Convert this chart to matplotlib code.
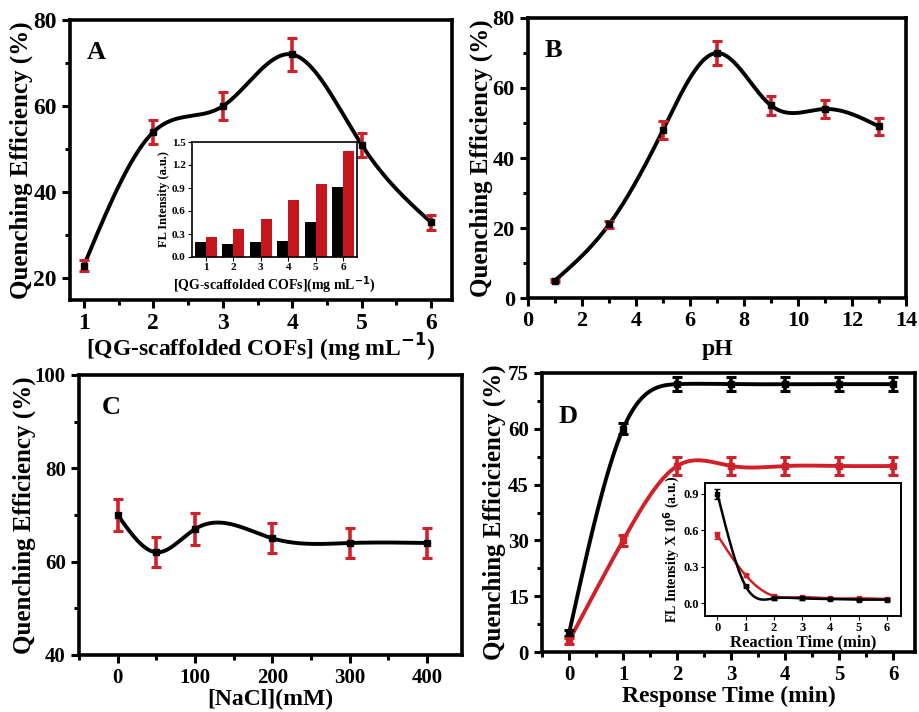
import numpy as np
import matplotlib
matplotlib.use("Agg")
import matplotlib.pyplot as plt
from matplotlib.ticker import AutoMinorLocator

plt.rcParams['font.family'] = ['Liberation Serif', 'DejaVu Serif']
plt.rcParams['font.weight'] = 'bold'
plt.rcParams['axes.labelweight'] = 'bold'
plt.rcParams['mathtext.default'] = 'bf'

# ---------------- data ----------------
a_x = [1, 2, 3, 4, 5, 6]
a_y = [23, 54, 60, 72, 51, 33]
a_err = [1.2, 2.8, 3.2, 3.8, 2.8, 1.8]

a_in_cat = [1, 2, 3, 4, 5, 6]
a_in_black = [0.19, 0.17, 0.19, 0.21, 0.46, 0.91]
a_in_red = [0.26, 0.37, 0.50, 0.75, 0.95, 1.38]

b_x = [1, 3, 5, 7, 9, 11, 13]
b_y = [5, 21, 48, 70, 55, 54, 49]
b_err = [0.5, 1.0, 2.5, 3.5, 2.7, 2.7, 2.5]

c_x = [0, 50, 100, 200, 300, 400]
c_y = [70, 62, 67, 65, 64, 64]
c_err = [3.5, 3.2, 3.5, 3.2, 3.2, 3.2]

d_x = [0, 1, 2, 3, 4, 5, 6]
d_black = [5, 60, 72, 72, 72, 72, 72]
d_black_err = [0.8, 1.5, 1.8, 1.8, 1.8, 1.8, 1.8]
d_red = [3, 30, 50, 50, 50, 50, 50]
d_red_err = [0.8, 1.5, 2.3, 2.3, 2.3, 2.3, 2.3]

d_in_x = [0, 1, 2, 3, 4, 5, 6]
d_in_black = [0.90, 0.14, 0.04, 0.04, 0.035, 0.03, 0.03]
d_in_black_err = [0.04, 0.01, 0.01, 0.01, 0.01, 0.01, 0.01]
d_in_red = [0.56, 0.23, 0.06, 0.05, 0.04, 0.04, 0.035]
d_in_red_err = [0.03, 0.01, 0.01, 0.01, 0.01, 0.01, 0.01]

RED = '#d0212a'
BARRED = '#c4161c'


def natural_spline(x, y, n=400):
    x = np.asarray(x, float); y = np.asarray(y, float)
    m = len(x); h = np.diff(x)
    A = np.zeros((m, m)); r = np.zeros(m)
    A[0, 0] = A[-1, -1] = 1
    for i in range(1, m - 1):
        A[i, i - 1] = h[i - 1]; A[i, i] = 2 * (h[i - 1] + h[i]); A[i, i + 1] = h[i]
        r[i] = 3 * ((y[i + 1] - y[i]) / h[i] - (y[i] - y[i - 1]) / h[i - 1])
    c = np.linalg.solve(A, r)
    b = (y[1:] - y[:-1]) / h - h * (2 * c[:-1] + c[1:]) / 3
    d = (c[1:] - c[:-1]) / (3 * h)
    xs = np.linspace(x[0], x[-1], n)
    idx = np.clip(np.searchsorted(x, xs) - 1, 0, m - 2)
    t = xs - x[idx]
    ys = y[idx] + b[idx] * t + c[idx] * t ** 2 + d[idx] * t ** 3
    return xs, ys


W, H = 920, 712
fig = plt.figure(figsize=(W / 100, H / 100), dpi=100)


def ax_px(l, t, r, b):
    return fig.add_axes([l / W, (H - b) / H, (r - l) / W, (b - t) / H])


def style_main(ax, fs=15):
    for s in ax.spines.values():
        s.set_linewidth(2.6)
    ax.tick_params(which='both', direction='out', top=False, right=False, width=2.2)
    ax.tick_params(which='major', length=6, labelsize=fs)
    ax.tick_params(which='minor', length=3.5)
    ax.xaxis.set_minor_locator(AutoMinorLocator(2))
    ax.yaxis.set_minor_locator(AutoMinorLocator(2))
    for lab in ax.get_xticklabels() + ax.get_yticklabels():
        lab.set_fontweight('bold')


def plot_series(ax, x, y, err, lc='black', ec=RED, mc='black', lw=2.8):
    xs, ys = natural_spline(x, y)
    ax.plot(xs, ys, color=lc, lw=lw, zorder=2)
    ax.errorbar(x, y, yerr=err, fmt='none', ecolor=ec, elinewidth=2.6,
                capsize=3.5, capthick=2.2, zorder=3)
    ax.plot(x, y, 's', color=mc, ms=5, zorder=4)


YL = 'Quenching Efficiency (%)'

# ---------------- A ----------------
axA = ax_px(70, 20, 452, 300)
plot_series(axA, a_x, a_y, a_err)
axA.set_xlim(0.8, 6.3)
axA.set_ylim(15, 80)
axA.set_xticks([1, 2, 3, 4, 5, 6])
axA.set_yticks([20, 40, 60, 80])
style_main(axA, 17)
axA.set_ylabel(YL, fontsize=18, fontweight='bold')
axA.yaxis.set_label_coords(-0.097, 0.5)
axA.set_xlabel('[QG-scaffolded COFs] (mg mL$^{\\mathbf{-1}}$)', fontsize=17, fontweight='bold')
axA.xaxis.set_label_coords(0.5, -0.115)
axA.text(0.045, 0.86, 'A', transform=axA.transAxes, fontsize=19, fontweight='bold')

# inset A
axAi = ax_px(192, 142, 357, 257)
pos = np.arange(len(a_in_cat))
axAi.bar(pos - 0.2, a_in_black, width=0.4, color='black')
axAi.bar(pos + 0.2, a_in_red, width=0.4, color=BARRED)
axAi.set_xlim(-0.5, 5.5)
axAi.set_ylim(0, 1.5)
axAi.set_xticks(pos)
axAi.set_xticklabels([str(c) for c in a_in_cat])
axAi.set_yticks([0.0, 0.3, 0.6, 0.9, 1.2, 1.5])
axAi.set_yticklabels(['0.0', '0.3', '0.6', '0.9', '1.2', '1.5'])
for s in axAi.spines.values():
    s.set_linewidth(1.2)
axAi.tick_params(which='both', direction='out', top=False, right=False, labelsize=8, length=3, pad=1.5)
axAi.set_ylabel('FL Intensity (a.u.)', fontsize=9, fontweight='bold', labelpad=1)
axAi.set_xlabel('[QG-scaffolded COFs](mg mL$^{\\mathbf{-1}}$)', fontsize=10, fontweight='bold', labelpad=1)

# ---------------- B ----------------
axB = ax_px(528, 18, 906, 298)
plot_series(axB, b_x, b_y, b_err)
axB.set_xlim(0, 14)
axB.set_ylim(0, 80)
axB.set_xticks(range(0, 15, 2))
axB.set_yticks([0, 20, 40, 60, 80])
style_main(axB, 16)
axB.set_ylabel(YL, fontsize=18, fontweight='bold')
axB.yaxis.set_label_coords(-0.092, 0.5)
axB.set_xlabel('pH', fontsize=17, fontweight='bold')
axB.xaxis.set_label_coords(0.5, -0.145)
axB.text(0.045, 0.86, 'B', transform=axB.transAxes, fontsize=19, fontweight='bold')

# ---------------- C ----------------
axC = ax_px(79, 375, 462, 655)
plot_series(axC, c_x, c_y, c_err)
axC.set_xlim(-50, 445)
axC.set_ylim(40, 100)
axC.set_xticks([0, 100, 200, 300, 400])
axC.set_yticks([40, 60, 80, 100])
style_main(axC, 15)
axC.set_ylabel(YL, fontsize=18, fontweight='bold')
axC.yaxis.set_label_coords(-0.112, 0.5)
axC.set_xlabel('[NaCl](mM)', fontsize=17, fontweight='bold')
axC.xaxis.set_label_coords(0.5, -0.12)
axC.text(0.06, 0.86, 'C', transform=axC.transAxes, fontsize=19, fontweight='bold')

# ---------------- D ----------------
axD = ax_px(542, 373, 915, 652)
xs, ys = natural_spline(d_x, d_black)
axD.plot(xs, ys, color='black', lw=2.8, zorder=2)
axD.errorbar(d_x, d_black, yerr=d_black_err, fmt='none', ecolor='black', elinewidth=2.6,
             capsize=3.5, capthick=2.2, zorder=3)
axD.plot(d_x, d_black, 's', color='black', ms=5, zorder=4)
xs, ys = natural_spline(d_x, d_red)
axD.plot(xs, ys, color=RED, lw=2.8, zorder=2)
axD.errorbar(d_x, d_red, yerr=d_red_err, fmt='none', ecolor=RED, elinewidth=2.6,
             capsize=3.5, capthick=2.2, zorder=3)
axD.plot(d_x, d_red, 's', color=RED, ms=5, zorder=4)
axD.set_xlim(-0.5, 6.4)
axD.set_ylim(0, 75)
axD.set_xticks(range(0, 7))
axD.set_yticks([0, 15, 30, 45, 60, 75])
style_main(axD, 15)
axD.set_ylabel('Quenching Efficiciency (%)', fontsize=18, fontweight='bold')
axD.yaxis.set_label_coords(-0.097, 0.5)
axD.set_xlabel('Response Time (min)', fontsize=17, fontweight='bold')
axD.xaxis.set_label_coords(0.5, -0.12)
axD.text(0.045, 0.82, 'D', transform=axD.transAxes, fontsize=19, fontweight='bold')

# inset D
axDi = ax_px(705, 483, 901, 616)
xs, ys = natural_spline(d_in_x, d_in_black)
axDi.plot(xs, ys, color='black', lw=1.8, zorder=3)
axDi.errorbar(d_in_x, d_in_black, yerr=d_in_black_err, fmt='none', ecolor='black',
              elinewidth=1.5, capsize=2, zorder=3)
xs, ys = natural_spline(d_in_x, d_in_red)
axDi.plot(xs, ys, color=RED, lw=1.8, zorder=2)
axDi.errorbar(d_in_x, d_in_red, yerr=d_in_red_err, fmt='none', ecolor=RED,
              elinewidth=1.5, capsize=2, zorder=2)
axDi.plot(d_in_x, d_in_red, 's', color=RED, ms=2.5, zorder=2)
axDi.plot(d_in_x, d_in_black, 's', color='black', ms=2.5, zorder=3)
axDi.set_xlim(-0.44, 6.5)
axDi.set_ylim(-0.105, 0.99)
axDi.set_xticks(range(0, 7))
axDi.set_yticks([0.0, 0.3, 0.6, 0.9])
axDi.set_yticklabels(['0.0', '0.3', '0.6', '0.9'])
for s in axDi.spines.values():
    s.set_linewidth(1.4)
axDi.tick_params(which='both', direction='out', top=False, right=False, labelsize=9, length=3, pad=1.5)
axDi.set_ylabel('FL Intensity X 10$^{\\mathbf{6}}$ (a.u.)', fontsize=10, fontweight='bold', labelpad=1)
axDi.set_xlabel('Reaction Time (min)', fontsize=12, fontweight='bold', labelpad=0)

fig.savefig('out.png', dpi=100)
